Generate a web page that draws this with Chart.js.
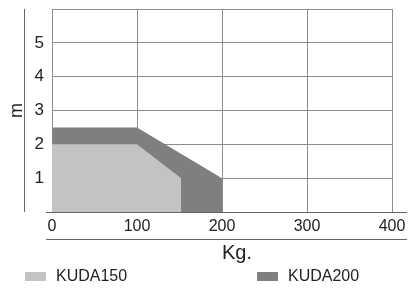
<!DOCTYPE html>
<html>
<head>
<meta charset="utf-8">
<script src="https://cdn.jsdelivr.net/npm/chart.js@4/dist/chart.umd.min.js"></script>
<style>
  html, body { margin: 0; padding: 0; background: #fff; }
  #wrap { width: 414px; height: 291px; }
</style>
</head>
<body>
<div id="wrap"><canvas id="myChart" width="414" height="291"></canvas></div>
<script>
// data
const seriesLabels = ['KUDA150', 'KUDA200'];
const kuda150Kg = [0, 100, 152, 152];
const kuda150M = [2, 2, 1, 0];
const kuda200Kg = [0, 100, 200, 200];
const kuda200M = [2.5, 2.5, 1, 0];
const xTicks = [0, 100, 200, 300, 400];
const yTicks = [1, 2, 3, 4, 5];
const xTitle = 'Kg.';
const yTitle = 'm';

const lightGrey = '#c3c3c3';
const darkGrey = '#7f7f7f';
const gridColor = '#8c8c8c';
const lineColor = '#666';
const textColor = '#222';
const regular = "'Liberation Sans', Arial, sans-serif";

const toPoints = (xs, ys) => xs.map((x, i) => ({ x, y: ys[i] }));

// extra lines, x title and legend, laid out like the original
const extras = {
  id: 'extras',
  afterDraw(chart) {
    const { ctx, chartArea } = chart;
    ctx.save();
    ctx.strokeStyle = lineColor;
    ctx.lineWidth = 1;
    ctx.beginPath();
    ctx.moveTo(46, Math.round(chartArea.bottom) + 0.5);
    ctx.lineTo(407, Math.round(chartArea.bottom) + 0.5);
    ctx.moveTo(46, 239.5);
    ctx.lineTo(407, 239.5);
    ctx.moveTo(24.5, chartArea.top);
    ctx.lineTo(24.5, chartArea.bottom);
    ctx.stroke();

    ctx.fillStyle = textColor;
    ctx.font = '20px ' + regular;
    ctx.textAlign = 'center';
    ctx.textBaseline = 'middle';
    ctx.fillText(xTitle, 237, 253);

    const colors = [lightGrey, darkGrey];
    const starts = [25, 257];
    ctx.font = '16px ' + regular;
    ctx.textAlign = 'left';
    seriesLabels.forEach((label, i) => {
      ctx.fillStyle = colors[i];
      ctx.fillRect(starts[i], 272, 21, 9);
      ctx.fillStyle = textColor;
      ctx.fillText(label, starts[i] + 31, 277);
    });
    ctx.restore();
  },
};

const data = {
  datasets: [
    {
      label: seriesLabels[0],
      data: toPoints(kuda150Kg, kuda150M),
      backgroundColor: lightGrey,
      fill: 'origin',
    },
    {
      label: seriesLabels[1],
      data: toPoints(kuda200Kg, kuda200M),
      backgroundColor: darkGrey,
      fill: 'origin',
    },
  ],
};

const config = {
  type: 'line',
  data,
  options: {
    responsive: false,
    animation: false,
    devicePixelRatio: 1,
    layout: { padding: { left: 0, right: 22, top: 9, bottom: 0 } },
    elements: {
      line: { borderWidth: 0, tension: 0 },
      point: { radius: 0 },
    },
    plugins: {
      legend: { display: false },
      tooltip: { enabled: false },
    },
    scales: {
      x: {
        type: 'linear',
        min: 0,
        max: 400,
        z: 1,
        afterBuildTicks: (axis) => { axis.ticks = xTicks.map((v) => ({ value: v })); },
        afterFit: (axis) => {
          axis.height = 79;
          axis.paddingLeft = 0;
          axis.paddingRight = 0;
        },
        grid: { color: gridColor, drawTicks: false },
        border: { display: false },
        ticks: {
          padding: 5,
          color: textColor,
          font: { family: regular, size: 16 },
          maxRotation: 0,
        },
      },
      y: {
        min: 0,
        max: 6,
        z: 1,
        afterBuildTicks: (axis) => { axis.ticks = [0, ...yTicks, 6].map((v) => ({ value: v })); },
        afterFit: (axis) => {
          axis.width = 52;
          axis.paddingTop = 0;
          axis.paddingBottom = 0;
        },
        grid: { color: gridColor, drawTicks: false },
        border: { display: true, color: gridColor },
        ticks: {
          padding: 8,
          color: textColor,
          font: { family: regular, size: 17 },
          callback: (v) => (yTicks.includes(v) ? v : ''),
        },
        title: {
          display: true,
          text: yTitle,
          color: textColor,
          font: { family: regular, size: 18 },
          padding: { top: 6, bottom: 0 },
        },
      },
    },
  },
  plugins: [extras],
};

const chart = new Chart(document.getElementById('myChart'), config);
</script>
</body>
</html>
